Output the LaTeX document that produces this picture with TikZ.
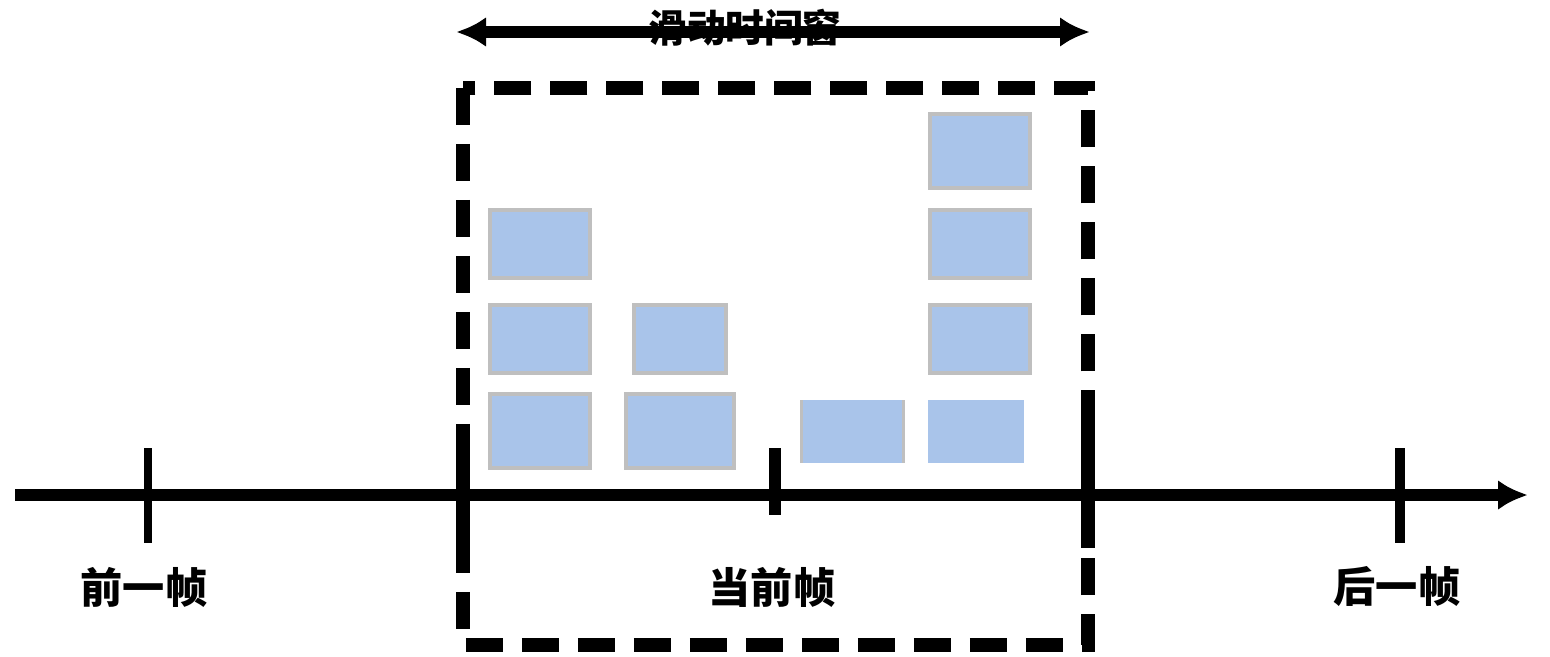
\documentclass[tikz,border=0pt]{standalone}
\usepackage{fontspec}
\usepackage{xcolor}
\usepackage{tikz}
\usetikzlibrary{arrows.meta,positioning}
\newfontfamily\cjk{Noto Sans CJK SC}
\definecolor{cellblue}{RGB}{169,196,234}
\definecolor{cellgray}{RGB}{191,191,191}

\begin{document}
\begin{tikzpicture}[x=0.02cm,y=-0.02cm,>={Latex[length=0.6cm,width=0.6cm]},
    cell/.style={fill=cellblue,draw=cellgray,line width=0.07cm},
    cellplain/.style={fill=cellblue},
    tick/.style={line width=#1},
    lab/.style={font=\cjk\bfseries\fontsize{24}{24}\selectfont,inner sep=0pt}]
  \useasboundingbox (0,0) rectangle (1550,656);

  \coordinate (axL) at (15,495);
  \coordinate (axR) at (1528,495);
  \draw[->,line width=0.24cm] (axL) -- (axR);

  \foreach \x/\t/\b/\w in {148/448/543/0.16cm,463/448/548/0.28cm,775/448/515/0.24cm,
                           1088/418/548/0.28cm,1400/448/543/0.2cm}
    \draw[tick=\w] (\x,\t) -- (\x,\b);

  \coordinate (winNW) at (463,88);
  \coordinate (winSE) at (1088,645);
  \draw[line width=0.28cm,dash pattern=on 0.74cm off 0.38cm] (winNW) rectangle (winSE);

  \coordinate (spanL) at (456,32);
  \coordinate (spanR) at (1090,32);
  \draw[<->,line width=0.24cm] (spanL) -- (spanR);
  \node[lab,font=\cjk\bfseries\fontsize{22}{22}\selectfont] (span) at (745,28) {滑动时间窗};

  \foreach \a/\b/\c/\d in {490/210/590/278,490/305/590/373,490/394/590/468,
                           634/305/726/373,626/394/734/468,
                           930/114/1030/188,930/210/1030/278,930/305/1030/373}
    \draw[cell] (\a,\b) rectangle (\c,\d);
  \fill[cellplain] (800,400) rectangle (905,463);
  \draw[cellgray,line width=0.07cm] (801.5,400) -- (801.5,463) (903.5,400) -- (903.5,463);
  \fill[cellplain] (928,400) rectangle (1024,463);

  \node[lab] (prev) at (144,587) {前一帧};
  \node[lab] (curr) at (772,587) {当前帧};
  \node[lab] (next) at (1397,587) {后一帧};
\end{tikzpicture}
\end{document}
